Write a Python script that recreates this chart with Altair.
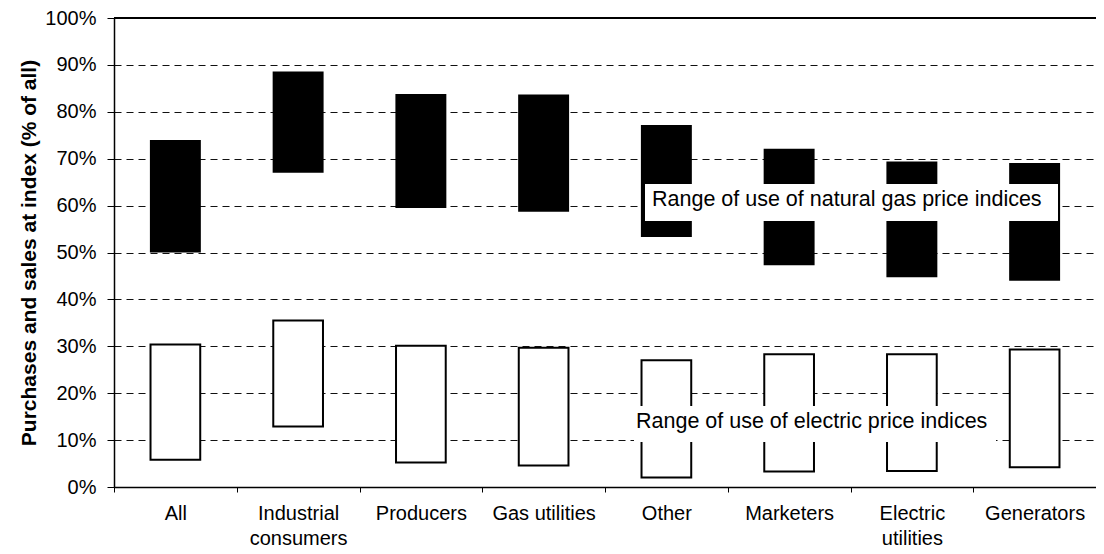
import altair as alt
import pandas as pd

categories = ["All", "Industrial consumers", "Producers", "Gas utilities",
              "Other", "Marketers", "Electric utilities", "Generators"]
gas_low = [50.0, 67.0, 59.5, 58.7, 53.3, 47.3, 44.7, 44.0]
gas_high = [74.0, 88.6, 83.8, 83.7, 77.2, 72.1, 69.4, 69.1]
elec_low = [5.8, 12.9, 5.2, 4.6, 2.0, 3.3, 3.4, 4.2]
elec_high = [30.4, 35.5, 30.1, 29.7, 27.0, 28.3, 28.3, 29.3]
gas_note = "Range of use of natural gas price indices"
elec_note = "Range of use of electric price indices"
y_title = "Purchases and sales at index (% of all)"

W, H = 982, 469
FONT = "Liberation Sans"

gas = pd.DataFrame({"cat": categories, "lo": [v / 100 for v in gas_low],
                    "hi": [v / 100 for v in gas_high]})
elec = pd.DataFrame({"cat": categories, "lo": [v / 100 for v in elec_low],
                     "hi": [v / 100 for v in elec_high]})

label_expr = ("datum.label == 'Industrial consumers' ? ['Industrial', 'consumers'] : "
              "datum.label == 'Electric utilities' ? ['Electric', 'utilities'] : datum.label")

x = alt.X("cat:N", sort=categories, title=None,
          scale=alt.Scale(paddingInner=0, paddingOuter=0),
          axis=alt.Axis(labelAngle=0, labelExpr=label_expr, tickBand="extent",
                        tickSize=5, labelPadding=11, labelFontSize=20, labelFont=FONT,
                        labelColor="black", labelLineHeight=25, domainColor="black",
                        domainWidth=1.5, tickColor="black", grid=False))
y = alt.Y("lo:Q", title=y_title,
          scale=alt.Scale(domain=[0, 1], nice=False),
          axis=alt.Axis(format=".0%", values=[i / 10 for i in range(11)],
                        tickSize=7, labelPadding=11, labelFontSize=20, labelFont=FONT,
                        labelColor="black", titleFontSize=21, titleFont=FONT,
                        titleFontWeight="bold", titleColor="black", titlePadding=5,
                        domainColor="black", domainWidth=1.5, tickColor="black",
                        grid=True, gridColor="#111111", gridDash=[7, 5], gridWidth=1.1))

gas_bars = alt.Chart(gas).mark_bar(color="black", width=alt.RelativeBandSize(0.415)).encode(
    x=x, y=y, y2="hi:Q")
elec_bars = alt.Chart(elec).mark_bar(fill="white", stroke="black", strokeWidth=2,
                                     width=alt.RelativeBandSize(0.405)).encode(
    x=x, y=y, y2="hi:Q")

# top frame line
top = alt.Chart(gas).mark_rule(color="black", strokeWidth=1.5).encode(
    x=alt.value(0), x2=alt.value(W), y=alt.value(0))

# annotation boxes
gas_box = alt.Chart(gas).mark_rect(fill="white").encode(
    x=alt.value(530), x2=alt.value(945), y=alt.value(166), y2=alt.value(203))
gas_box_l = alt.Chart(gas).mark_rule(color="black", strokeWidth=1.5).encode(
    x=alt.value(530), y=alt.value(166), y2=alt.value(203))
gas_box_r = alt.Chart(gas).mark_rule(color="black", strokeWidth=1.5).encode(
    x=alt.value(945), y=alt.value(166), y2=alt.value(203))
gas_text = alt.Chart(pd.DataFrame({"t": [gas_note]})).mark_text(
    align="left", baseline="alphabetic", fontSize=21.5, font=FONT, color="black").encode(
    text="t:N", x=alt.value(538), y=alt.value(188))

elec_box = alt.Chart(gas).mark_rect(fill="white").encode(
    x=alt.value(520), x2=alt.value(882), y=alt.value(388), y2=alt.value(424))
elec_text = alt.Chart(pd.DataFrame({"t": [elec_note]})).mark_text(
    align="left", baseline="alphabetic", fontSize=21.5, font=FONT, color="black").encode(
    text="t:N", x=alt.value(522), y=alt.value(410))

chart = alt.layer(
    gas_bars, elec_bars, top, gas_box, gas_box_l, gas_box_r, gas_text, elec_box, elec_text
).properties(
    width=W, height=H,
    autosize=alt.AutoSizeParams(type="none"),
    padding={"left": 106, "top": 10, "right": 0, "bottom": 66},
    background="white",
).configure_view(stroke=None)

chart.save("out.html", embed_options={"renderer": "svg", "actions": False})
